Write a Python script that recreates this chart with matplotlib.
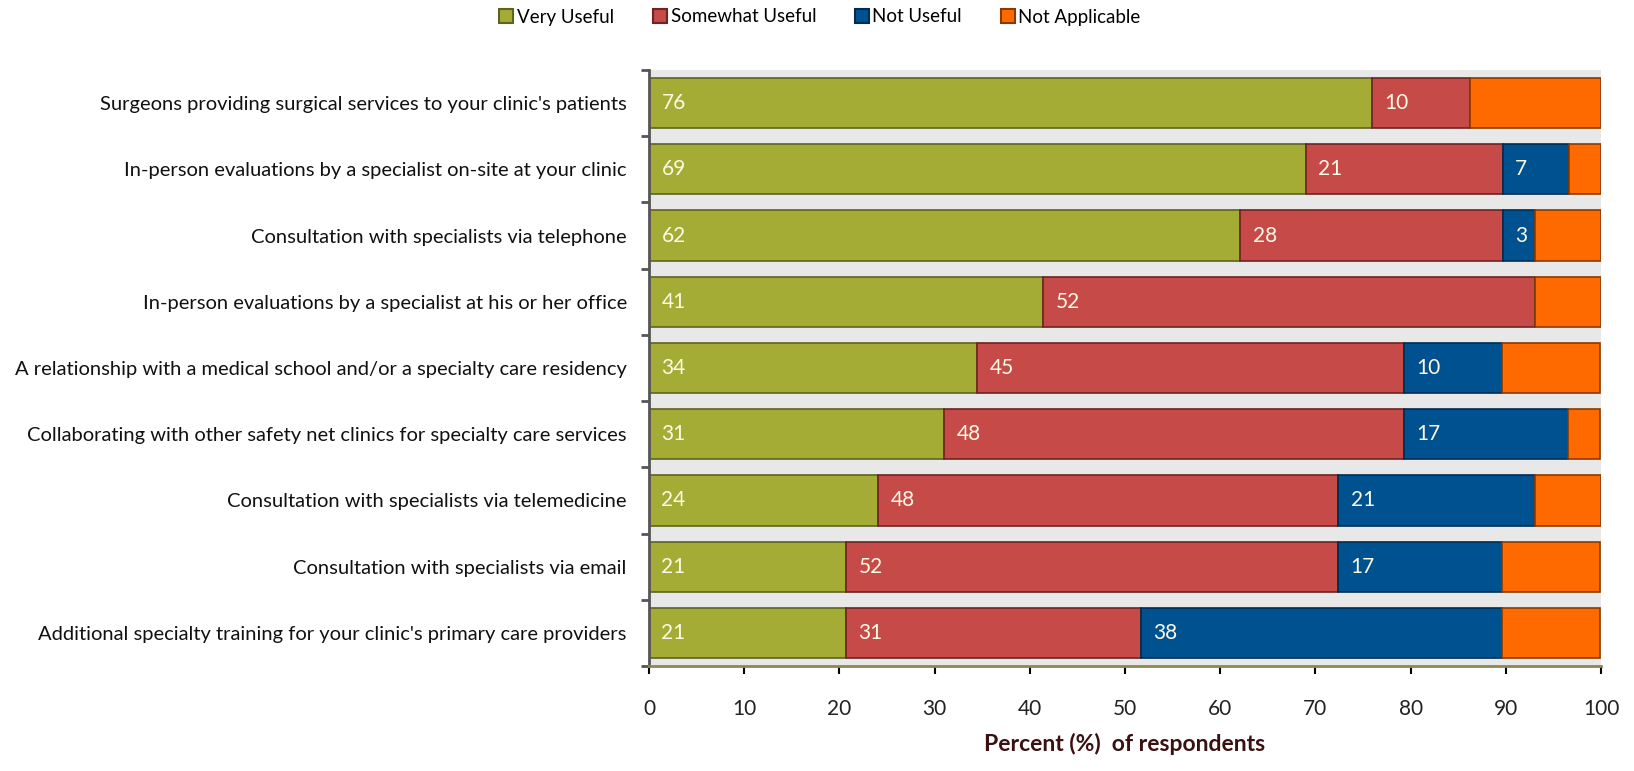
import numpy as np
import matplotlib.pyplot as plt
from matplotlib.patches import Patch

plt.rcParams['font.family'] = ['Lato', 'DejaVu Sans']

# Survey items, top to bottom
items = [
    "Surgeons providing surgical services to your clinic's patients",
    "In-person evaluations by a specialist on-site at your clinic",
    "Consultation with specialists via telephone",
    "In-person evaluations by a specialist at his or her office",
    "A relationship with a medical school and/or a specialty care residency",
    "Collaborating with other safety net clinics for specialty care services",
    "Consultation with specialists via telemedicine",
    "Consultation with specialists via email",
    "Additional specialty training for your clinic's primary care providers",
]

# Percent of respondents for each rating
very_useful = [75.9, 69.0, 62.1, 41.4, 34.5, 31.0, 24.1, 20.7, 20.7]
somewhat_useful = [10.3, 20.7, 27.6, 51.7, 44.8, 48.3, 48.3, 51.7, 31.0]
not_useful = [0.0, 6.9, 3.4, 0.0, 10.3, 17.2, 20.7, 17.2, 37.9]
not_applicable = [13.8, 3.4, 6.9, 6.9, 10.3, 3.4, 6.9, 10.3, 10.3]

series = [
    ("Very Useful", very_useful, "#a4ac36", "#5e6320", True),
    ("Somewhat Useful", somewhat_useful, "#c64a48", "#6e2422", True),
    ("Not Useful", not_useful, "#00518f", "#002d52", True),
    ("Not Applicable", not_applicable, "#ff6a00", "#8a3a00", False),
]

fig = plt.figure(figsize=(16.34, 7.71), dpi=100)
ax = fig.add_axes([649 / 1634, 1 - 666 / 771, (1601 - 649) / 1634, (666 - 70) / 771])
ax.set_facecolor("#e8e8e8")

y = np.arange(len(items))
left = np.zeros(len(items))
handles = []
for name, vals, color, edge, labelled in series:
    vals = np.array(vals)
    ax.barh(y, vals, left=left, height=0.76, color=color,
            edgecolor=edge, linewidth=1.2)
    if labelled:
        for yi, (l, v) in enumerate(zip(left, vals)):
            if v > 0:
                ax.text(l + 1.3, yi, f"{v:.0f}", va="center", ha="left",
                        color="#fdfbe6", fontsize=15)
    left += vals
    handles.append(Patch(facecolor=color, edgecolor=edge, linewidth=1.5))

ax.set_xlim(0, 100)
ax.set_ylim(len(items) - 0.5, -0.5)
ax.set_xticks(np.arange(0, 101, 10))
ax.tick_params(axis="x", labelsize=15, length=6, width=1.5,
               pad=18, labelcolor="#222222")
# tick marks pick up the colour of the bar segment just above them
tick_colors = ["#7c8428"] * 3 + ["#b04040"] * 5 + ["#2a6a9a"] * 2 + ["#b05a20"]
for tick, c in zip(ax.xaxis.get_major_ticks(), tick_colors):
    tick.tick1line.set_color(c)

ax.set_yticks(y)
ax.set_yticklabels(items, fontsize=14.5, color="#111111")
ax.tick_params(axis="y", length=0, pad=16)
ax.set_yticks(np.arange(-0.5, len(items)), minor=True)
ax.tick_params(axis="y", which="minor", length=6, width=2, color="#555555")

for s in ["top", "right"]:
    ax.spines[s].set_visible(False)
ax.spines["left"].set_color("#555555")
ax.spines["left"].set_linewidth(2)
ax.spines["bottom"].set_color("#8a8a50")
ax.spines["bottom"].set_linewidth(2)

# axis title placed in figure coordinates below the tick labels
fig.text(1125 / 1634, 1 - 744 / 771, "Percent (%)  of respondents",
         ha="center", va="center", fontsize=16.5, fontweight="bold",
         color="#3a1010")

fig.legend(handles, [s[0] for s in series], loc="center",
           bbox_to_anchor=(820 / 1634, 1 - 17 / 771), ncol=4, frameon=False,
           fontsize=13.5, handlelength=0.75, handleheight=0.75,
           handletextpad=0.2, columnspacing=2.05)

fig.savefig("out.png", dpi=100)
